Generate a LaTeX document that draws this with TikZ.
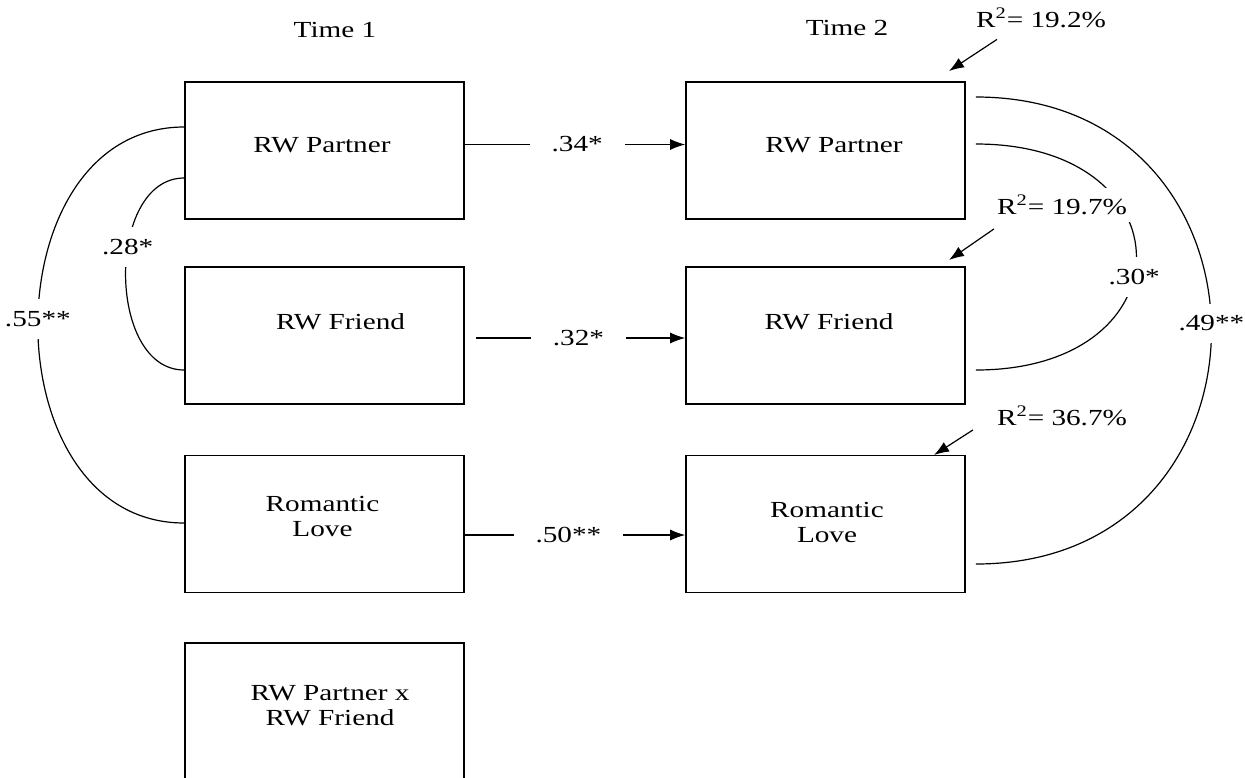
\documentclass[tikz,border=0pt]{standalone}
\usepackage{fontspec}
\setmainfont{Liberation Serif}[FakeStretch=1.27]
\usetikzlibrary{arrows.meta}

\begin{document}
\begin{tikzpicture}[x=0.5pt,y=-0.5pt,
    every node/.style={font=\fontsize{11.5}{12.5}\selectfont},
    varbox/.style={draw,line width=0.8pt,minimum width=139.5pt,minimum height=68.5pt},
    coef/.style={fill=white,inner xsep=2pt,inner ysep=6pt},
    pathcoef/.style={fill=white,inner xsep=11pt,inner ysep=2pt},
    rsq/.style={fill=white},
    link/.style={line width=0.6pt},
    effect/.style={line width=0.6pt,-{Latex[length=7.5pt,width=5.5pt]}}]

        \useasboundingbox (0,0) rectangle (1245,777);
        \clip (0,0) rectangle (1245,777);

        \node (t1) at (335,30) {Time 1};
        \node (t2) at (847,28) {Time 2};

        % time 1
        \begin{scope}[every label/.style={align=center}]
          \node[varbox,label={[xshift=-1.25pt,yshift=2.75pt]center:RW Partner}] (l1) at (324.5,150.5) {};
          \node[varbox,label={[xshift=8pt,yshift=6.75pt]center:RW Friend}] (l2) at (324.5,335.5) {};
          \node[varbox,label={[xshift=-1pt,yshift=4pt]center:Romantic\\Love}] (l3) at (324.5,524) {};
          \node[varbox,label={[xshift=2.75pt,yshift=2.75pt]center:RW Partner x\\RW Friend}] (l4) at (324.5,711.5) {};
        \end{scope}

        % time 2
        \begin{scope}[every label/.style={align=center}]
          \node[varbox,label={[xshift=4.25pt,yshift=2.75pt]center:RW Partner}] (r1) at (825.5,150.5) {};
          \node[varbox,label={[xshift=1.75pt,yshift=6.75pt]center:RW Friend}] (r2) at (825.5,335.5) {};
          \node[varbox,label={[xshift=0.75pt,yshift=0.75pt]center:Romantic\\Love}] (r3) at (825.5,524) {};
        \end{scope}

        % correlations
        \draw[link] ([yshift=11.75pt]l1.west) .. controls (-11,127) and (-11,523) .. ([yshift=0.5pt]l3.west) node[coef,pos=0.49] {.55**};
        \draw[link] ([yshift=-13.75pt]l1.west) .. controls (106,178) and (106,370) .. ([yshift=-17.25pt]l2.west) node[coef,pos=0.405] {.28*};
        \draw[link] ([xshift=5pt,yshift=3.25pt]r1.east) .. controls (1190,144) and (1190,370) .. ([xshift=5pt,yshift=-17.25pt]r2.east) node[coef,pos=0.56] {.30*};
        \draw[link] ([xshift=5pt,yshift=26.75pt]r1.east) .. controls (1290,97) and (1290,564) .. ([xshift=5pt,yshift=-20pt]r3.east) node[coef,pos=0.49] {.49**};

        % explained variance
        \node[rsq] (rsq1) at (1041,17.5) {R\textsuperscript{2}= 19.2\%};
        \node[rsq] (rsq2) at (1062,205) {R\textsuperscript{2}= 19.7\%};
        \node[rsq] (rsq3) at (1062,416) {R\textsuperscript{2}= 36.7\%};
        \coordinate (e1) at (949,71);
        \coordinate (e2) at (949,260);
        \coordinate (e3) at (934,455);
        \draw[effect] ([xshift=14pt,yshift=-2.5pt]rsq1.south west) -- (e1);
        \draw[effect] ([xshift=2pt,yshift=-3.5pt]rsq2.south west) -- (e2);
        \draw[effect] ([xshift=-8.5pt,yshift=1.5pt]rsq3.south west) -- (e3);

        % stability paths
        \draw[effect] ([yshift=3pt]l1.east) -- ([yshift=3pt]r1.west) node[pathcoef,pos=0.51] {.34*};
        \draw[effect] ([xshift=5.5pt,yshift=-1.25pt]l2.east) -- ([yshift=-1.25pt]r2.west) node[pathcoef,pos=0.49] {.32*};
        \draw[effect] ([yshift=-5.5pt]l3.east) -- ([yshift=-5.5pt]r3.west) node[pathcoef,pos=0.47] {.50**};

      \end{tikzpicture}
\end{document}
